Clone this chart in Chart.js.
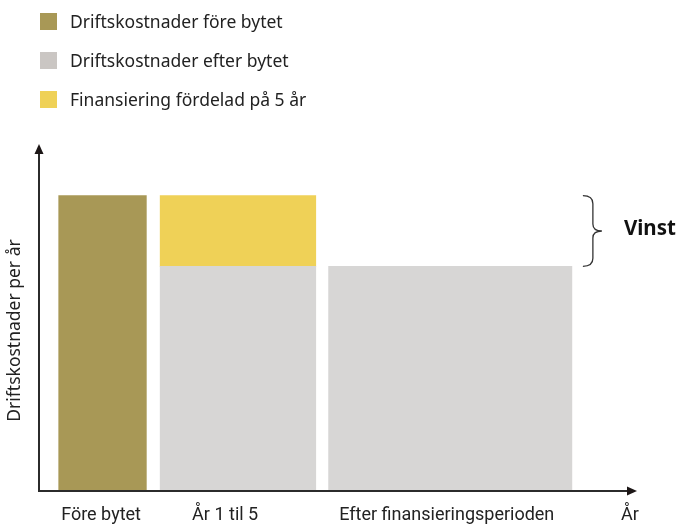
<!DOCTYPE html>
<html>
<head>
<meta charset="utf-8">
<script src="https://cdn.jsdelivr.net/npm/chart.js@4.4.1/dist/chart.umd.min.js"></script>
<style>
  body { margin: 0; background: #fff; }
  #wrap { position: relative; width: 680px; height: 524px; }
  #legend { position: absolute; left: 40px; top: 12px; font-family: "Noto Sans"; font-size: 17.5px; color: #222; }
  .item { display: flex; align-items: center; height: 18px; margin-bottom: 21px; }
  .box { width: 17px; height: 17px; margin-right: 13px; flex: none; }
</style>
</head>
<body>
<div id="wrap">
  <canvas id="chart" width="680" height="524"></canvas>
  <div id="legend"></div>
</div>
<script>
// categories along the x axis, with the span each one covers
var categories = ['Före bytet', 'År 1 til 5', 'Efter finansieringsperioden'];
var spanStart = [2.0, 12.3, 29.4];
var spanEnd   = [10.9, 28.1, 54.1];

// cost per year (relative units)
var seriesNames = ['Driftskostnader före bytet', 'Driftskostnader efter bytet', 'Finansiering fördelad på 5 år'];
var costBefore = [92, null, null];
var costAfter  = [null, 70, 70];
var financing  = [null, 22, null];

var tickPositions = [6.3, 18.9, 41.4, 60];
var tickLabels = ['Före bytet', 'År 1 til 5', 'Efter finansieringsperioden', 'År'];
var yTitle = 'Driftskostnader per år';
var gainLabel = 'Vinst';

var barColors = ['#A89856', '#D7D6D5', '#EFD157'];
var legendColors = ['#A89856', '#CAC6C3', '#EFD157'];

// legend
var legend = document.getElementById('legend');
seriesNames.forEach(function(name, i) {
    var item = document.createElement('div');
    item.className = 'item';
    item.innerHTML = '<span class="box" style="background:' + legendColors[i] + '"></span><span>' + name + '</span>';
    legend.appendChild(item);
});

// one dataset per filled cell, stacked by hand as floating bars
var series = [costBefore, costAfter, financing];
var datasets = [];
series.forEach(function(values, s) {
    values.forEach(function(v, i) {
        if (v === null) return;
        var base = 0;
        for (var k = 0; k < s; k++) base += series[k][i] || 0;
        datasets.push({
            label: seriesNames[s],
            cat: i,
            data: [{ x: (spanStart[i] + spanEnd[i]) / 2, y: [base, base + v] }],
            backgroundColor: barColors[s],
            borderWidth: 0,
            grouped: false
        });
    });
});

const axesPlugin = {
    id: 'arrowAxes',
    afterDraw: (chart) => {
        const ctx = chart.ctx;
        const a = chart.chartArea;
        ctx.save();
        ctx.strokeStyle = '#2b2b2b';
        ctx.fillStyle = '#1c1616';
        ctx.lineWidth = 2;
        // y axis
        ctx.beginPath();
        ctx.moveTo(a.left, a.bottom + 1);
        ctx.lineTo(a.left, a.top - 20);
        ctx.stroke();
        ctx.beginPath();
        ctx.moveTo(a.left, a.top - 26);
        ctx.lineTo(a.left - 4.5, a.top - 16);
        ctx.lineTo(a.left + 4.5, a.top - 16);
        ctx.closePath();
        ctx.fill();
        // x axis
        ctx.beginPath();
        ctx.moveTo(a.left - 1, a.bottom);
        ctx.lineTo(a.right, a.bottom);
        ctx.stroke();
        ctx.beginPath();
        ctx.moveTo(a.right + 7, a.bottom);
        ctx.lineTo(a.right - 3, a.bottom - 4.5);
        ctx.lineTo(a.right - 3, a.bottom + 4.5);
        ctx.closePath();
        ctx.fill();

        // brace over the financing part
        var fi = financing.findIndex(function(v) { return v !== null; });
        var base = costAfter[fi];
        var y1 = chart.scales.y.getPixelForValue(base + financing[fi]);
        var y2 = chart.scales.y.getPixelForValue(base);
        var mid = (y1 + y2) / 2;
        var xa = chart.scales.x.getPixelForValue(spanEnd[2]) + 11;
        var xb = xa + 10, xc = xa + 19;
        ctx.lineWidth = 1.3;
        ctx.strokeStyle = '#333';
        ctx.beginPath();
        ctx.moveTo(xa, y1);
        ctx.quadraticCurveTo(xb, y1, xb, y1 + 8);
        ctx.lineTo(xb, mid - 7);
        ctx.quadraticCurveTo(xb, mid, xc, mid);
        ctx.quadraticCurveTo(xb, mid, xb, mid + 7);
        ctx.lineTo(xb, y2 - 8);
        ctx.quadraticCurveTo(xb, y2, xa, y2);
        ctx.stroke();

        ctx.fillStyle = '#111';
        ctx.font = 'bold 20.5px "Noto Sans"';
        ctx.textBaseline = 'middle';
        ctx.textAlign = 'left';
        ctx.fillText(gainLabel, xc + 22, mid - 2);
        ctx.restore();
    }
};

var ctx = document.getElementById('chart').getContext('2d');
var myChart = new Chart(ctx, {
    type: 'bar',
    data: { datasets: datasets },
    options: {
        responsive: false,
        animation: false,
        layout: { padding: { top: 170, right: 50, left: 0, bottom: 0 } },
        plugins: { legend: { display: false }, tooltip: { enabled: false } },
        scales: {
            x: {
                type: 'linear',
                min: 0,
                max: 60,
                offset: false,
                grid: { display: false, drawTicks: false, offset: false },
                border: { display: false },
                afterBuildTicks: function(scale) {
                    scale.ticks = tickPositions.map(function(v) { return { value: v }; });
                },
                afterFit: function(scale) { scale.height = 33; },
                ticks: {
                    autoSkip: false,
                    maxRotation: 0,
                    padding: 14,
                    color: '#222',
                    font: { family: 'Roboto', size: 18 },
                    callback: function(value, index) { return tickLabels[index]; }
                }
            },
            y: {
                min: 0,
                max: 100,
                grid: { display: false, drawTicks: false },
                border: { display: false },
                ticks: { display: false },
                afterFit: function(scale) { scale.width = 39; },
                title: {
                    display: true,
                    text: yTitle,
                    color: '#222',
                    font: { family: 'Noto Sans', size: 17.5 },
                    padding: { top: 5, bottom: 0 }
                }
            }
        }
    },
    plugins: [axesPlugin]
});

// bar widths follow each category's span on the x scale
var xs = myChart.scales.x;
myChart.data.datasets.forEach(function(ds) {
    ds.barThickness = xs.getPixelForValue(spanEnd[ds.cat]) - xs.getPixelForValue(spanStart[ds.cat]);
});
myChart.update();
</script>
</body>
</html>
